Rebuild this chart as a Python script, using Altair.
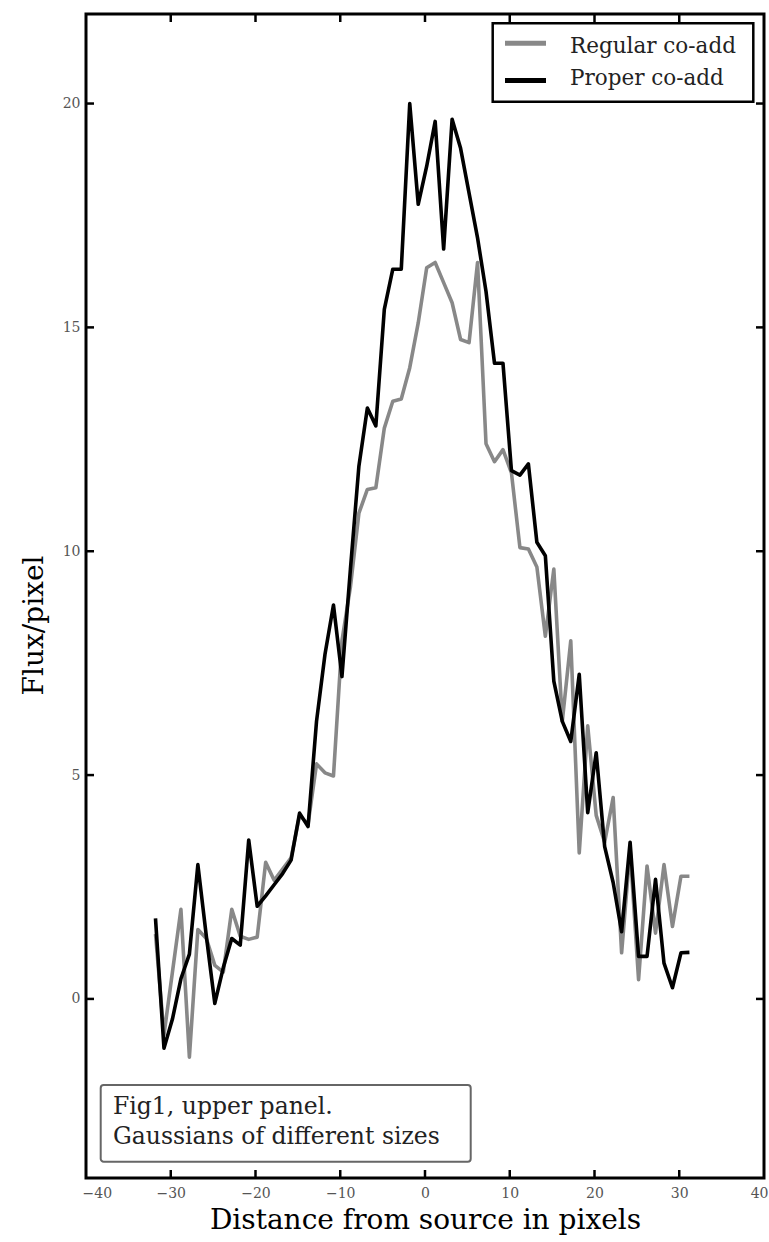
import altair as alt
import pandas as pd

# ---- data ----
x_pos = [-31.8, -30.8, -29.8, -28.8, -27.8, -26.8, -25.8, -24.8, -23.8, -22.8,
         -21.8, -20.8, -19.8, -18.8, -17.8, -16.8, -15.8, -14.8, -13.8, -12.8,
         -11.8, -10.8, -9.8, -8.8, -7.8, -6.8, -5.8, -4.8, -3.8, -2.8,
         -1.8, -0.8, 0.2, 1.2, 2.2, 3.2, 4.2, 5.2, 6.2, 7.2,
         8.2, 9.2, 10.2, 11.2, 12.2, 13.2, 14.2, 15.2, 16.2, 17.2,
         18.2, 19.2, 20.2, 21.2, 22.2, 23.2, 24.2, 25.2, 26.2, 27.2,
         28.2, 29.2, 30.2, 31.2]

proper = [1.8, -1.1, -0.45, 0.45, 1.0, 3.0, 1.4, -0.1, 0.7, 1.35,
          1.2, 3.55, 2.07, 2.3, 2.55, 2.8, 3.1, 4.15, 3.85, 6.2,
          7.7, 8.8, 7.2, 9.6, 11.9, 13.2, 12.8, 15.4, 16.3, 16.3,
          20.0, 17.75, 18.6, 19.6, 16.75, 19.65, 19.0, 18.0, 17.0, 15.8,
          14.2, 14.2, 11.8, 11.7, 11.95, 10.2, 9.9, 7.1, 6.2, 5.75,
          7.25, 4.16, 5.5, 3.4, 2.6, 1.5, 3.5, 0.95, 0.95, 2.67,
          0.8, 0.25, 1.03, 1.04]

regular = [1.45, -0.8, 0.6, 2.0, -1.3, 1.55, 1.35, 0.75, 0.6, 2.0,
           1.4, 1.33, 1.38, 3.05, 2.65, 2.9, 3.15, 4.1, 3.9, 5.25,
           5.05, 4.98, 8.0, 9.2, 10.85, 11.38, 11.42, 12.75, 13.35, 13.4,
           14.1, 15.1, 16.33, 16.45, 16.0, 15.55, 14.73, 14.66, 16.45, 12.4,
           12.0, 12.27, 11.75, 10.08, 10.05, 9.65, 8.1, 9.6, 6.2, 8.0,
           3.26, 6.1, 4.1, 3.5, 4.5, 1.03, 3.34, 0.43, 2.97, 1.47,
           3.0, 1.62, 2.74, 2.74]

series_names = ["Regular co-add", "Proper co-add"]
series_colors = ["#888888", "#000000"]
x_ticks = [-40, -30, -20, -10, 0, 10, 20, 30, 40]
y_ticks = [0, 5, 10, 15, 20]
note_lines = ["Fig1, upper panel.", "Gaussians of different sizes"]

W, H = 678, 1164
SERIF = "DejaVu Serif"

df = pd.concat([
    pd.DataFrame({"x": x_pos, "flux": regular, "series": series_names[0]}),
    pd.DataFrame({"x": x_pos, "flux": proper, "series": series_names[1]}),
])

xscale = alt.Scale(domain=[-40, 40], nice=False, zero=False)
yscale = alt.Scale(domain=[-4, 22], nice=False, zero=False)

xaxis = alt.Axis(values=x_ticks, format="d", ticks=False, domain=False, grid=False,
                 labelFont=SERIF, labelFontSize=14, labelColor="#555555", labelPadding=8,
                 labelFlush=True, labelFlushOffset=4, labelOverlap=False, labelBound=False,
                 title="Distance from source in pixels", titleFont=SERIF, titleFontSize=28,
                 titleFontWeight="normal", titleColor="black", titleY=50,
                 titleBaseline="alphabetic")
yaxis = alt.Axis(values=y_ticks, format="d", ticks=False, domain=False, grid=False,
                 labelFont=SERIF, labelFontSize=14, labelColor="#555555", labelPadding=6,
                 labelOverlap=False,
                 title="Flux/pixel", titleFont=SERIF, titleFontSize=28,
                 titleFontWeight="normal", titleColor="black", titleX=-52, titleY=611,
                 titleAngle=270, titleAlign="center", titleBaseline="middle")

X = alt.X("x:Q", scale=xscale, axis=xaxis)
Y = alt.Y("flux:Q", scale=yscale, axis=yaxis)

lines = []
for name, col in zip(series_names, series_colors):
    lines.append(
        alt.Chart(df).transform_filter(alt.datum.series == name)
        .mark_line(color=col, strokeWidth=3.6, strokeJoin="round")
        .encode(x=X, y=Y)
    )

xt = pd.DataFrame({"x": x_ticks[1:-1]})
yt = pd.DataFrame({"flux": y_ticks})
TL = 8
TW = 2.5
tick_layers = [
    alt.Chart(xt).mark_rule(color="black", strokeWidth=TW).encode(x=X, y=alt.value(H - TL), y2=alt.value(H)),
    alt.Chart(xt).mark_rule(color="black", strokeWidth=TW).encode(x=X, y=alt.value(0), y2=alt.value(TL)),
    alt.Chart(yt).mark_rule(color="black", strokeWidth=TW).encode(y=Y, x=alt.value(0), x2=alt.value(TL)),
    alt.Chart(yt).mark_rule(color="black", strokeWidth=TW).encode(y=Y, x=alt.value(W - TL), x2=alt.value(W)),
]

one = pd.DataFrame({"k": [0]})

# legend box
legend_layers = [
    alt.Chart(one).mark_rect(fill="white", stroke="black", strokeWidth=2.5).encode(
        x=alt.value(406.7), x2=alt.value(667.3), y=alt.value(9.3), y2=alt.value(87.7)),
]
for i, (name, col) in enumerate(zip(series_names, series_colors)):
    ly = [29.3, 66.5][i]
    ty = [38.7, 71.0][i]
    legend_layers.append(
        alt.Chart(one).mark_rule(color=col, strokeWidth=5).encode(
            x=alt.value(419), x2=alt.value(460), y=alt.value(ly)))
    legend_layers.append(
        alt.Chart(one).mark_text(align="left", baseline="alphabetic", font=SERIF,
                                 fontSize=21.5, color="#222222").encode(
            x=alt.value(484), y=alt.value(ty), text=alt.value(name)))

# annotation box
note_layers = [
    alt.Chart(one).mark_rect(fill="white", stroke="#666666", strokeWidth=2, cornerRadius=3).encode(
        x=alt.value(14.7), x2=alt.value(384.7), y=alt.value(1071), y2=alt.value(1147.7)),
]
for i, line in enumerate(note_lines):
    note_layers.append(
        alt.Chart(one).mark_text(align="left", baseline="alphabetic", font=SERIF,
                                 fontSize=23.5, color="#222222").encode(
            x=alt.value(27), y=alt.value([1100, 1130][i]), text=alt.value(line)))

chart = alt.layer(*lines, *tick_layers, *legend_layers, *note_layers).properties(
    width=W, height=H,
    autosize=alt.AutoSizeParams(type="none"),
    padding={"left": 86, "top": 14, "right": 5, "bottom": 64},
    background="white",
).configure_view(stroke="black", strokeWidth=3)

chart.save("out.html", embed_options={"renderer": "svg", "actions": False})
